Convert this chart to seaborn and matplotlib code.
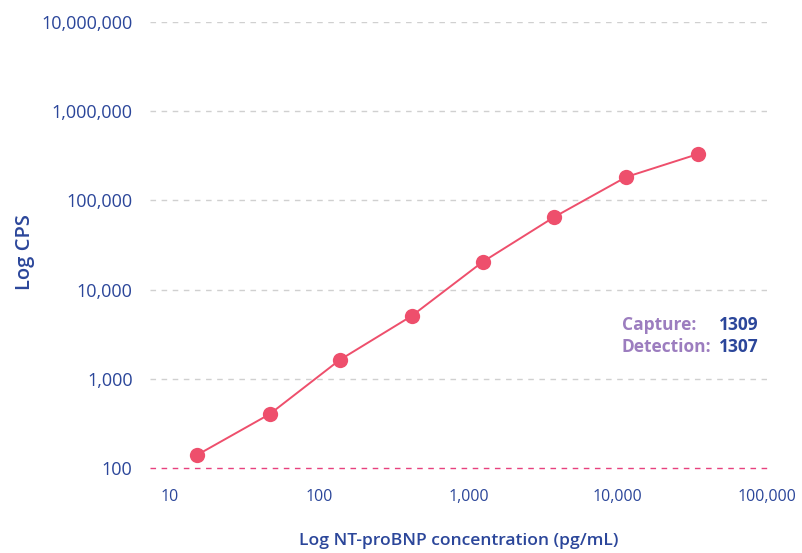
import matplotlib
matplotlib.use("Agg")
import matplotlib.pyplot as plt
import matplotlib.ticker as mticker
import seaborn as sns
import pandas as pd

# NT-proBNP calibration curve (3-fold dilution series)
concentration = [15.2, 46.7, 137, 416, 1242, 3758, 11400, 34500]
cps = [140, 403, 1625, 5060, 20400, 65200, 183000, 331000]

x_ticks = [10, 100, 1000, 10000, 100000]
y_ticks = [100, 1000, 10000, 100000, 1000000, 10000000]

capture_id = "1309"
detection_id = "1307"

navy = "#2B469A"
curve = "#EE4F6C"
purple = "#9C7DBF"

sns.set_theme(style="white")
plt.rcParams["font.family"] = ["Open Sans", "DejaVu Sans"]

df = pd.DataFrame({"conc": concentration, "cps": cps})

W, H = 803, 553
fig = plt.figure(figsize=(W / 100, H / 100), dpi=100)
ax = fig.add_axes([150 / W, 1 - 468 / H, (767 - 150) / W, (468 - 22) / H])

sns.lineplot(data=df, x="conc", y="cps", ax=ax, color=curve, linewidth=1.4,
             marker="o", markersize=11, markeredgewidth=0, zorder=3)

ax.set_xscale("log")
ax.set_yscale("log")
ax.set_xlim(7.35, 100000)
ax.set_ylim(100, 10000000)

ax.set_xticks(x_ticks)
ax.set_yticks(y_ticks)
ax.xaxis.set_minor_locator(mticker.NullLocator())
ax.yaxis.set_minor_locator(mticker.NullLocator())
fmt = mticker.FuncFormatter(lambda v, p: f"{int(round(v)):,}")
ax.xaxis.set_major_formatter(fmt)
ax.yaxis.set_major_formatter(fmt)

for s in ax.spines.values():
    s.set_visible(False)

ax.tick_params(axis="y", length=0, pad=12.5, labelsize=13, labelcolor=navy)
ax.tick_params(axis="x", length=0, pad=15, labelsize=11.5, labelcolor=navy)
for lbl in ax.get_xticklabels() + ax.get_yticklabels():
    lbl.set_fontweight("medium")

# dashed horizontal gridlines; baseline at 100 in pink
for yv in y_ticks[1:]:
    ax.axhline(yv, color="#D0D0D0", linestyle=(0, (4, 4)), linewidth=1, zorder=1)
ax.axhline(100, color="#E8417E", linestyle=(0, (4, 4)), linewidth=1, zorder=1, clip_on=False)

ax.set_xlabel("")
ax.set_ylabel("")
fig.text(459 / W, 1 - 541 / H, "Log NT-proBNP concentration (pg/mL)", color=navy,
         fontsize=12.6, fontweight="semibold", ha="center", va="center")
fig.text(25 / W, 1 - 252 / H, "Log CPS", color=navy, fontsize=14.5,
         fontweight="semibold", rotation=90, ha="center", va="center")

rows = [("Capture:", capture_id, 325), ("Detection:", detection_id, 347)]
for name, ident, ypx in rows:
    fig.text(622 / W, 1 - ypx / H, name, fontsize=12.5, fontweight="bold",
             color=purple, va="center", ha="left")
    fig.text(719 / W, 1 - ypx / H, ident, fontsize=12.5, fontweight="bold",
             color=navy, va="center", ha="left")

fig.savefig("out.png", dpi=100)
